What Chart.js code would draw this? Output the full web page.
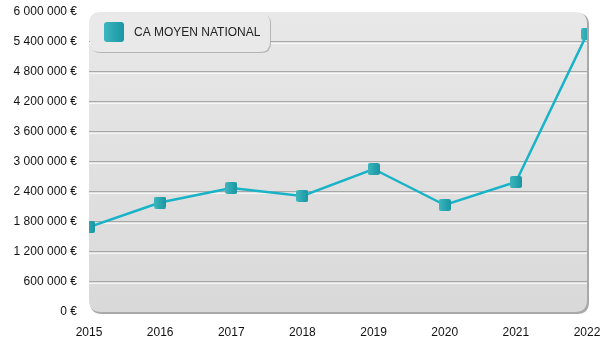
<!DOCTYPE html>
<html>
<head>
<meta charset="utf-8">
<script src="https://cdn.jsdelivr.net/npm/chart.js@4"></script>
<style>
  html, body { margin: 0; padding: 0; background: #fff; }
  #wrap { width: 600px; height: 350px; }
</style>
</head>
<body>
<div id="wrap"><canvas id="caChart" width="600" height="350"></canvas></div>
<script>
const years = ["2015", "2016", "2017", "2018", "2019", "2020", "2021", "2022"];
const caMoyen = [1700000, 2190000, 2480000, 2320000, 2860000, 2140000, 2600000, 5560000];
const seriesLabel = "CA MOYEN NATIONAL";
const yMax = 6000000;
const yStep = 600000;

const lineColor = "#19b3c7";
const fontFamily = "'Liberation Sans', Arial, sans-serif";

function formatEuro(v) {
  return String(Math.round(v)).replace(/\B(?=(\d{3})+(?!\d))/g, " ") + " €";
}

function roundRect(ctx, x, y, w, h, r) {
  ctx.beginPath();
  ctx.moveTo(x + r, y);
  ctx.lineTo(x + w - r, y);
  ctx.quadraticCurveTo(x + w, y, x + w, y + r);
  ctx.lineTo(x + w, y + h - r);
  ctx.quadraticCurveTo(x + w, y + h, x + w - r, y + h);
  ctx.lineTo(x + r, y + h);
  ctx.quadraticCurveTo(x, y + h, x, y + h - r);
  ctx.lineTo(x, y + r);
  ctx.quadraticCurveTo(x, y, x + r, y);
  ctx.closePath();
}

// small teal square used for the markers and the legend swatch
function makeSquare(size, radius) {
  const c = document.createElement("canvas");
  c.width = size;
  c.height = size;
  const g = c.getContext("2d");
  const grad = g.createLinearGradient(0, 0, size, 0);
  grad.addColorStop(0, "#3db6be");
  grad.addColorStop(1, "#1896a2");
  g.fillStyle = grad;
  roundRect(g, 0, 0, size, size, radius);
  g.fill();
  return c;
}

const markerImg = makeSquare(12, 2);
const swatchImg = makeSquare(20, 3);

// panel background, embossed grid lines and the legend box
const panelPlugin = {
  id: "panel",
  beforeDraw(chart) {
    const ctx = chart.ctx;
    const a = chart.chartArea;
    const w = a.right - a.left;
    const h = a.bottom - a.top;
    ctx.save();
    ctx.fillStyle = "#a9a9a9";
    roundRect(ctx, a.left + 1, a.top + 1, w + 1, h + 1, 12);
    ctx.fill();
    const bg = ctx.createLinearGradient(0, a.top, 0, a.bottom);
    bg.addColorStop(0, "#e8e8e8");
    bg.addColorStop(1, "#d9d9d9");
    ctx.fillStyle = bg;
    roundRect(ctx, a.left, a.top, w, h, 12);
    ctx.fill();

    const y = chart.scales.y;
    y.ticks.forEach(t => {
      if (t.value <= 0 || t.value >= yMax) return;
      const py = Math.round(y.getPixelForValue(t.value));
      ctx.fillStyle = "#a8a8a8";
      ctx.fillRect(a.left, py - 1, w, 1.5);
      ctx.fillStyle = "#ffffff";
      ctx.fillRect(a.left, py + 0.5, w, 1.2);
    });
    ctx.restore();
  },
  afterDraw(chart) {
    const ctx = chart.ctx;
    const a = chart.chartArea;
    const lx = a.left + 1;
    const ly = a.top + 1;
    const lw = 180;
    const lh = 39;
    ctx.save();
    ctx.fillStyle = "#b4b4b4";
    roundRect(ctx, lx + 1, ly + 1, lw, lh, 10);
    ctx.fill();
    ctx.fillStyle = "#e9e9e9";
    roundRect(ctx, lx, ly, lw, lh, 10);
    ctx.fill();
    ctx.drawImage(swatchImg, lx + 14, ly + 9);
    ctx.fillStyle = "#222";
    ctx.font = "12px " + fontFamily;
    ctx.textBaseline = "middle";
    ctx.fillText(chart.data.datasets[0].label, lx + 44, ly + 20);
    ctx.restore();
  }
};

new Chart(document.getElementById("caChart").getContext("2d"), {
  type: "line",
  data: {
    labels: years,
    datasets: [{
      label: seriesLabel,
      data: caMoyen,
      borderColor: lineColor,
      borderWidth: 2.5,
      fill: false,
      tension: 0,
      pointStyle: markerImg,
      clip: 0
    }]
  },
  options: {
    responsive: false,
    animation: false,
    layout: { padding: { top: 12, right: 13, left: 0, bottom: 0 } },
    plugins: {
      legend: { display: false },
      tooltip: { enabled: false }
    },
    scales: {
      x: {
        offset: false,
        grid: { display: false, drawTicks: false },
        border: { display: false },
        ticks: {
          color: "#111",
          padding: 13,
          maxRotation: 0,
          autoSkip: false,
          font: { family: fontFamily, size: 12 }
        },
        afterFit(scale) {
          scale.height = 38;
          scale.paddingLeft = 0;
          scale.paddingRight = 0;
        }
      },
      y: {
        min: 0,
        max: yMax,
        grid: { display: false, drawTicks: false },
        border: { display: false },
        ticks: {
          stepSize: yStep,
          color: "#111",
          padding: 12,
          font: { family: fontFamily, size: 12 },
          callback: v => formatEuro(v)
        },
        afterFit(scale) {
          scale.width = 89;
          scale.paddingTop = 0;
          scale.paddingBottom = 0;
        }
      }
    }
  },
  plugins: [panelPlugin]
});
</script>
</body>
</html>
